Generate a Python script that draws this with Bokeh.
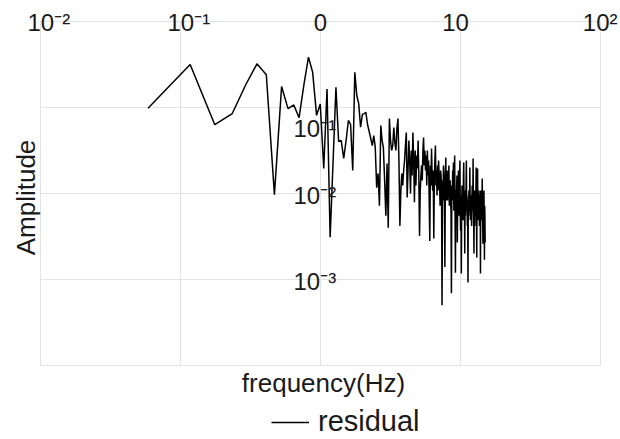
import math
import numpy as np
from bokeh.plotting import figure
from bokeh.models import ColumnDataSource, Label, Legend, LegendItem
from bokeh.embed import file_html
from bokeh.resources import INLINE

# ---- data -------------------------------------------------------------
sample_rate = 30.0
n_fft = 512
amplitude = [
    0.098, 0.316, 0.063, 0.085, 0.185, 0.322, 0.240, 0.0097, 0.175, 0.097,
    0.107, 0.076, 0.185, 0.385, 0.257, 0.081, 0.110, 0.0195, 0.164, 0.0031,
    0.0242, 0.172, 0.0402, 0.0413, 0.0255, 0.0413, 0.0706, 0.0634, 0.0185, 0.257,
    0.138, 0.111, 0.059, 0.083, 0.085, 0.0875, 0.0634, 0.0526, 0.0436, 0.0361,
    0.0472, 0.0343, 0.0117, 0.0171, 0.0072, 0.0618, 0.0413, 0.0343, 0.0142, 0.0055,
    0.0223, 0.0040, 0.0745, 0.0413, 0.0316, 0.0361, 0.0585, 0.0392, 0.0316, 0.0570,
    0.0745, 0.0242, 0.0042, 0.0108, 0.0171, 0.0124, 0.0185, 0.0242, 0.0361, 0.0512,
    0.0090, 0.0185, 0.0413, 0.0242, 0.0100, 0.0316, 0.0162, 0.0512, 0.0242, 0.0079,
    0.0316, 0.0124, 0.0277, 0.0195, 0.0413, 0.0162, 0.0032, 0.0108, 0.0162, 0.0212,
    0.0142, 0.0316, 0.0448, 0.0212, 0.0316, 0.0185, 0.0277, 0.0124, 0.0316, 0.0162,
    0.0242, 0.0083, 0.0028, 0.0212, 0.0124, 0.0334, 0.0162, 0.0108, 0.0185, 0.0030,
    0.0142, 0.0242, 0.0361, 0.0124, 0.0185, 0.0095, 0.0212, 0.0108, 0.0242, 0.0162,
    0.0124, 0.0072, 0.0185, 0.0162, 0.0095, 0.00050, 0.0142, 0.0083, 0.0212, 0.0162,
    0.0095, 0.0014, 0.0142, 0.0262, 0.0083, 0.0124, 0.0185, 0.0083, 0.0142, 0.0124,
    0.0212, 0.0072, 0.0108, 0.0142, 0.0083, 0.0063, 0.00069, 0.0124, 0.0083, 0.0185,
    0.0095, 0.0229, 0.0063, 0.0083, 0.0277, 0.0072, 0.0012, 0.0108, 0.0055, 0.0108,
    0.0162, 0.0027, 0.0083, 0.0124, 0.0185, 0.0055, 0.0083, 0.0108, 0.0242, 0.0063,
    0.0037, 0.0095, 0.00117, 0.0072, 0.0124, 0.0063, 0.0095, 0.0049, 0.0142, 0.0229,
    0.0072, 0.0108, 0.0020, 0.0083, 0.0055, 0.0083, 0.0124, 0.0242, 0.0063, 0.0095,
    0.0042, 0.0072, 0.00092, 0.0083, 0.0055, 0.0108, 0.0083, 0.0063, 0.0201, 0.0072,
    0.0049, 0.0095, 0.0055, 0.0083, 0.0042, 0.0095, 0.0124, 0.0063, 0.0083, 0.0255,
    0.0072, 0.0049, 0.0020, 0.0083, 0.0108, 0.0042, 0.0072, 0.0095, 0.0055, 0.0124,
    0.0201, 0.0063, 0.0018, 0.0083, 0.0055, 0.0195, 0.0072, 0.0049, 0.0108, 0.0083,
    0.0055, 0.0095, 0.0042, 0.0055, 0.0083, 0.0108, 0.00117, 0.0072, 0.0055, 0.0095,
    0.0108, 0.0049, 0.0083, 0.0149, 0.0063, 0.0042, 0.0026, 0.0083, 0.0055, 0.0083,
    0.0108, 0.0049, 0.0017, 0.0072, 0.0055, 0.0027,
]
frequency = np.fft.rfftfreq(n_fft, 1.0 / sample_rate)[1:len(amplitude) + 1]

x_ticks = [0.01, 0.1, 1, 10, 100]
x_tick_labels = ["10⁻²", "10⁻¹", "0", "10", "10²"]
y_ticks = [1e-4, 1e-3, 1e-2, 1e-1, 1]
y_label_values = [1e-1, 1e-2, 1e-3]
y_tick_labels = ["10⁻¹", "10⁻²", "10⁻³"]
x_title = "frequency(Hz)"
y_title = "Amplitude"
series_name = "residual"

# ---- styling ----------------------------------------------------------
FONT = "Liberation Sans"
TXT = "#1a1a1a"
GRID = "#e3e3e3"

# The frame fills the whole canvas; the plotting box (10^-2..10^2, 10^-4..1)
# sits inside it so that all texts around it stay inside the frame.
p = figure(width=620, height=439, x_axis_type="log", y_axis_type="log",
           x_range=(0.005179, 138.96), y_range=(1.378e-5, 1.754),
           x_axis_location=None, y_axis_location=None,
           output_backend="svg", toolbar_location=None,
           min_border=0)
p.outline_line_color = None
p.background_fill_color = "white"
p.border_fill_color = "white"
p.grid.visible = False

# grid box drawn from the tick values
n_x, n_y = len(x_ticks), len(y_ticks)
p.segment(x0=x_ticks, x1=x_ticks, y0=[y_ticks[0]] * n_x, y1=[y_ticks[-1]] * n_x,
          line_color=GRID, line_width=1)
p.segment(x0=[x_ticks[0]] * n_y, x1=[x_ticks[-1]] * n_y, y0=y_ticks, y1=y_ticks,
          line_color=GRID, line_width=1)

src = ColumnDataSource(dict(f=frequency, a=amplitude))
r = p.line("f", "a", source=src, line_color="black", line_width=1.5)

# top tick labels (drawn across the top box edge)
x_offsets = [-13, -13, 0, -5, 17]
x_aligns = ["left", "left", "center", "center", "right"]
for t, lab, off, al in zip(x_ticks, x_tick_labels, x_offsets, x_aligns):
    p.add_layout(Label(x=t, y=y_ticks[-1], text=lab, x_offset=off, y_offset=-1,
                       text_align=al, text_baseline="middle",
                       text_font=FONT, text_font_size="24px", text_color=TXT))

# y tick labels drawn next to the 10^0 line
y_offsets = [-21, -2, -2.5]
for t, lab, off in zip(y_label_values, y_tick_labels, y_offsets):
    p.add_layout(Label(x=1, y=t, text=lab, x_offset=-27, y_offset=off,
                       text_align="left", text_baseline="middle",
                       text_font=FONT, text_font_size="24px", text_color=TXT))

# axis titles
p.add_layout(Label(x=1, y=y_ticks[0], text=x_title, x_offset=3, y_offset=-18,
                   text_align="center", text_baseline="middle",
                   text_font=FONT, text_font_size="26px", text_color=TXT))
p.add_layout(Label(x=x_ticks[0], y=1e-2, text=y_title, x_offset=-15, y_offset=-4,
                   angle=math.pi / 2, text_align="center", text_baseline="middle",
                   text_font=FONT, text_font_size="26px", text_color=TXT))

legend = Legend(items=[LegendItem(label=series_name, renderers=[r])],
                orientation="horizontal", location=(271, 1),
                border_line_color=None, background_fill_alpha=0,
                label_text_font=FONT, label_text_font_size="29px",
                label_text_color=TXT, glyph_width=38, glyph_height=20,
                margin=0, padding=0, spacing=0, label_standoff=9)
p.add_layout(legend, "center")

open("out.html", "w").write(file_html(p, INLINE))
